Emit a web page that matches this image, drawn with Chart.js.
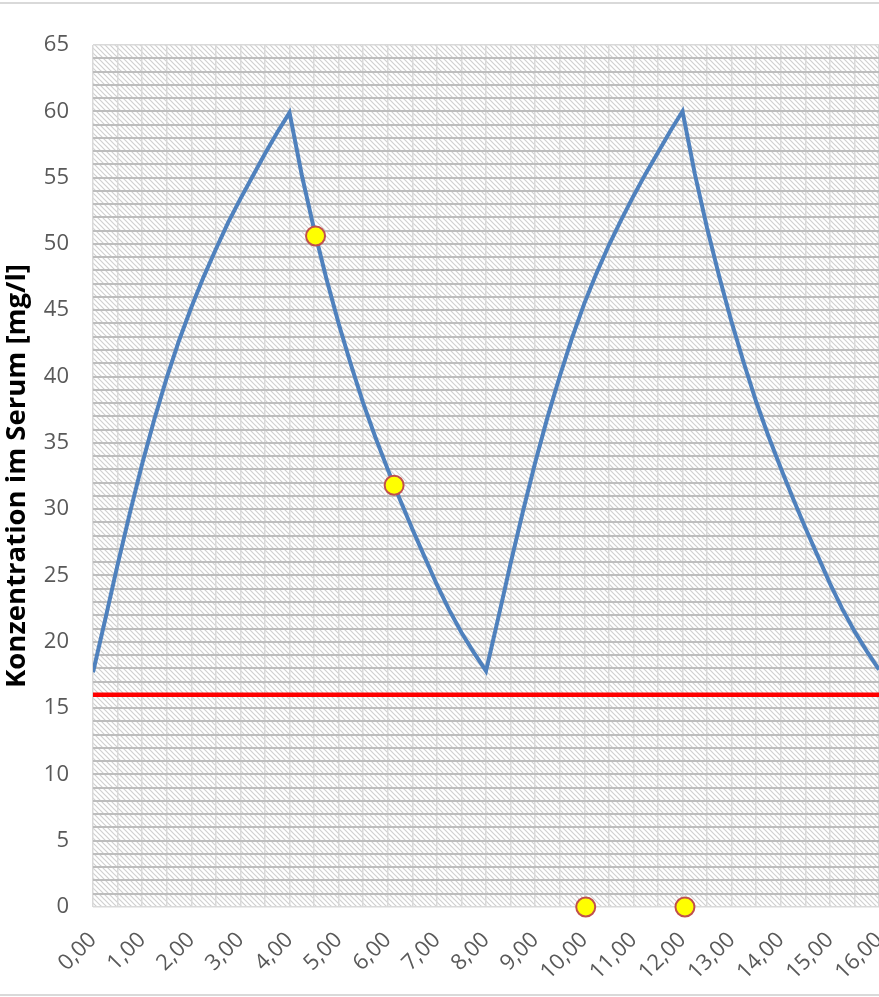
<!DOCTYPE html>
<html>
<head>
<meta charset="utf-8">
<script src="https://cdn.jsdelivr.net/npm/chart.js@4.4.0/dist/chart.umd.min.js"></script>
<style>
  body { margin: 0; background: #fff; overflow: hidden; }
  #wrap { width: 900px; height: 997px; }
</style>
</head>
<body>
<div id="wrap"><canvas id="myChart" width="900" height="997"></canvas></div>
<script>
// time in hours
const hours = [
  0, 0.25, 0.5, 0.75, 1, 1.25, 1.5, 1.75, 2, 2.25, 2.5, 2.75, 3, 3.25, 3.5, 3.75,
  4, 4.25, 4.5, 4.75, 5, 5.25, 5.5, 5.75, 6, 6.25, 6.5, 6.75, 7, 7.25, 7.5, 7.75,
  8, 8.25, 8.5, 8.75, 9, 9.25, 9.5, 9.75, 10, 10.25, 10.5, 10.75, 11, 11.25, 11.5, 11.75,
  12, 12.25, 12.5, 12.75, 13, 13.25, 13.5, 13.75, 14, 14.25, 14.5, 14.75, 15, 15.25, 15.5, 15.75,
  16
];
// serum concentration mg/l
const concentration = [
  17.7, 21.7, 25.8, 29.7, 33.4, 36.8, 39.9, 42.7, 45.2, 47.5, 49.6, 51.6, 53.4, 55.1, 56.8, 58.4,
  59.9, 55.2, 51.1, 47.4, 44.0, 40.9, 38.0, 35.4, 33.0, 30.7, 28.5, 26.4, 24.3, 22.4, 20.7, 19.2,
  17.8, 21.8, 25.9, 29.8, 33.5, 36.9, 40.0, 42.9, 45.5, 47.8, 49.9, 51.8, 53.6, 55.3, 56.9, 58.5,
  60.0, 55.3, 51.2, 47.5, 44.1, 41.0, 38.1, 35.5, 33.1, 30.8, 28.6, 26.5, 24.4, 22.5, 20.8, 19.3,
  17.9
];
// measured samples (yellow)
const sampleHours = [4.53, 6.13, 10.03, 12.05];
const sampleValues = [50.6, 31.8, 0, 0];
// threshold (red line)
const limitHours = [0, 16];
const limitValues = [16, 16];

const yTitle = 'Konzentration im Serum [mg/l]';

function toPoints(xs, ys) {
  return xs.map((x, i) => ({ x: x, y: ys[i] }));
}

// hatched plot background like the excel pattern fill
function makeHatch() {
  const c = document.createElement('canvas');
  c.width = 5; c.height = 5;
  const g = c.getContext('2d');
  g.fillStyle = '#ffffff';
  g.fillRect(0, 0, 5, 5);
  g.strokeStyle = '#d0d0d0';
  g.lineWidth = 1.2;
  g.beginPath();
  g.moveTo(-1, -1); g.lineTo(6, 6);
  g.moveTo(-1, 4); g.lineTo(1, 6);
  g.moveTo(4, -1); g.lineTo(6, 1);
  g.stroke();
  return c;
}

const hatchPlugin = {
  id: 'hatch',
  beforeDraw(chart) {
    const ctx = chart.ctx;
    const a = chart.chartArea;
    ctx.save();
    ctx.fillStyle = ctx.createPattern(makeHatch(), 'repeat');
    ctx.fillRect(a.left, a.top, a.right - a.left, a.bottom - a.top);
    // frame lines of the chart object
    ctx.fillStyle = '#d9d9d9';
    ctx.fillRect(0, 2, chart.width, 2);
    ctx.fillRect(0, 994, chart.width, 2);
    ctx.restore();
  }
};

const config = {
  type: 'line',
  data: {
    datasets: [
      {
        label: 'Grenze',
        data: toPoints(limitHours, limitValues),
        borderColor: '#ff0000',
        borderWidth: 4.5,
        pointRadius: 0,
        order: 3
      },
      {
        label: 'Konzentration',
        data: toPoints(hours, concentration),
        borderColor: '#4f81bd',
        borderWidth: 4,
        pointRadius: 0,
        tension: 0,
        order: 2
      },
      {
        label: 'Messwerte',
        data: toPoints(sampleHours, sampleValues),
        showLine: false,
        pointRadius: 9.5,
        pointBackgroundColor: '#ffff00',
        pointBorderColor: '#c0504d',
        pointBorderWidth: 2,
        clip: false,
        order: 1
      }
    ]
  },
  options: {
    responsive: false,
    animation: false,
    layout: { padding: { top: 45, right: 21, left: 0, bottom: 0 } },
    plugins: {
      legend: { display: false },
      tooltip: { enabled: false }
    },
    scales: {
      x: {
        type: 'linear',
        min: 0,
        max: 16,
        afterFit(scale) {
          scale.height = 90;
          scale.paddingRight = 0;   // let the last label run off the edge like the original
        },
        border: { display: false },
        grid: { color: '#d9d9d9', lineWidth: 1.5, drawTicks: false },
        ticks: {
          stepSize: 0.5,
          autoSkip: false,
          maxRotation: 45,
          minRotation: 45,
          padding: 20,
          color: '#595959',
          font: { family: 'Open Sans', size: 22 },
          callback: (v) => (v % 1 === 0 ? v.toFixed(2).replace('.', ',') : '')
        }
      },
      y: {
        min: 0,
        max: 65,
        afterFit(scale) { scale.width = 93; },
        border: { display: false },
        grid: {
          drawTicks: false,
          lineWidth: (c) => (c.tick.value === 0 || c.tick.value === 65 ? 1.5 : 2),
          color: (c) => (c.tick.value === 0 || c.tick.value === 65 ? '#d9d9d9' : '#bdbdbd')
        },
        ticks: {
          stepSize: 1,
          autoSkip: false,
          padding: 24,
          color: '#595959',
          font: { family: 'Open Sans', size: 22 },
          callback: (v) => (v % 5 === 0 ? String(v) : '')
        },
        title: {
          display: true,
          text: yTitle,
          color: '#000000',
          font: { family: 'Open Sans', size: 27.5, weight: 'bold' },
          padding: { top: 1, bottom: 0 }
        }
      }
    }
  },
  plugins: [hatchPlugin]
};

new Chart(document.getElementById('myChart'), config);
</script>
</body>
</html>
